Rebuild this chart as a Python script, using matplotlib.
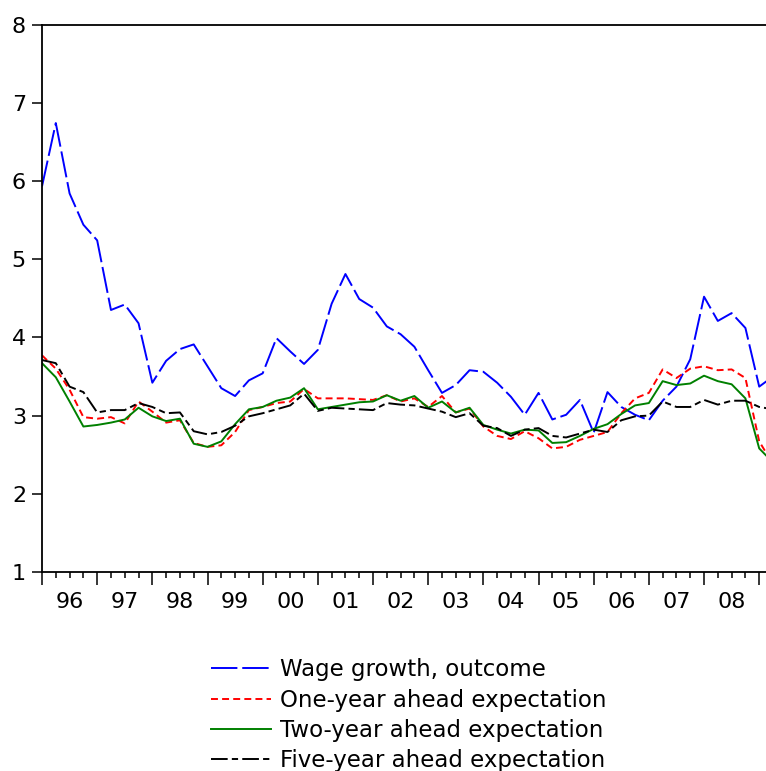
import matplotlib
matplotlib.use("Agg")
import matplotlib.pyplot as plt
import numpy as np

plt.rcParams['font.family'] = ['DejaVu Sans']
plt.rcParams['lines.scale_dashes'] = False

# quarterly, 1996Q1 .. 2009Q2
years = ['96', '97', '98', '99', '00', '01', '02', '03', '04', '05', '06', '07', '08']

wage = [5.93, 6.74, 5.84, 5.44, 5.24, 4.35, 4.42, 4.18, 3.42, 3.70, 3.85, 3.91,
        3.63, 3.35, 3.25, 3.45, 3.54, 3.99, 3.82, 3.66, 3.84, 4.43, 4.81, 4.49,
        4.38, 4.14, 4.04, 3.88, 3.58, 3.29, 3.39, 3.58, 3.56, 3.42, 3.24, 3.01,
        3.29, 2.95, 3.01, 3.20, 2.78, 3.30, 3.11, 3.01, 2.94, 3.19, 3.37, 3.72,
        4.52, 4.21, 4.31, 4.12, 3.37, 3.50]
one_year = [3.77, 3.60, 3.33, 2.98, 2.96, 2.98, 2.90, 3.18, 3.05, 2.91, 2.94, 2.65,
            2.60, 2.62, 2.79, 3.07, 3.11, 3.16, 3.18, 3.34, 3.22, 3.22, 3.22, 3.21,
            3.20, 3.26, 3.18, 3.22, 3.11, 3.25, 3.04, 3.09, 2.86, 2.74, 2.70, 2.80,
            2.71, 2.58, 2.60, 2.69, 2.74, 2.79, 3.03, 3.22, 3.29, 3.59, 3.48, 3.60,
            3.63, 3.58, 3.59, 3.48, 2.67, 2.38]
two_year = [3.67, 3.49, 3.18, 2.86, 2.88, 2.91, 2.95, 3.10, 2.99, 2.93, 2.96, 2.64,
            2.60, 2.67, 2.89, 3.08, 3.11, 3.19, 3.23, 3.35, 3.08, 3.11, 3.14, 3.17,
            3.18, 3.26, 3.19, 3.25, 3.10, 3.18, 3.04, 3.10, 2.88, 2.82, 2.77, 2.82,
            2.81, 2.65, 2.66, 2.74, 2.83, 2.89, 3.02, 3.13, 3.16, 3.44, 3.39, 3.41,
            3.51, 3.44, 3.40, 3.22, 2.58, 2.40]
five_year = [3.71, 3.67, 3.37, 3.30, 3.04, 3.07, 3.07, 3.16, 3.11, 3.03, 3.04, 2.80,
             2.76, 2.79, 2.87, 2.99, 3.03, 3.08, 3.13, 3.28, 3.06, 3.10, 3.09, 3.08,
             3.07, 3.16, 3.14, 3.13, 3.09, 3.05, 2.98, 3.03, 2.87, 2.84, 2.74, 2.82,
             2.84, 2.74, 2.72, 2.77, 2.82, 2.79, 2.94, 2.99, 3.00, 3.18, 3.11, 3.11,
             3.20, 3.14, 3.19, 3.19, 3.11, 3.08]

labels = ['Wage growth, outcome', 'One-year ahead expectation',
          'Two-year ahead expectation', 'Five-year ahead expectation']

t = np.arange(len(wage))

fig = plt.figure(figsize=(7.66, 7.71), dpi=100)
W, H = 766, 771
ax = fig.add_axes([42 / W, 1 - 572 / H, 731 / W, (572 - 24.5) / H])

ax.plot(t, wage, color='#0000ff', lw=1.4, dashes=(19, 3.5), label=labels[0])
ax.plot(t, one_year, color='#ff0000', lw=1.4, dashes=(5, 3), label=labels[1])
ax.plot(t, two_year, color='#008000', lw=1.4, label=labels[2])
ax.plot(t, five_year, color='black', lw=1.4, dashes=(12, 3, 4.5, 3), label=labels[3])

ax.set_xlim(0, 53)
ax.set_ylim(1, 8)
ax.set_yticks(range(1, 9))

major = np.arange(0, 54, 4)
minor = [q for q in range(54) if q % 4 != 0]
ax.set_xticks(major)
ax.set_xticklabels([''] * len(major))
ax.set_xticks(minor, minor=True)
minor_lab = []
for q in minor:
    if q % 4 == 2 and q // 4 < len(years):
        minor_lab.append(years[q // 4])
    else:
        minor_lab.append('')
ax.set_xticklabels(minor_lab, minor=True)

ax.tick_params(axis='x', which='major', length=9.5, width=1.1, direction='out')
ax.tick_params(axis='x', which='minor', length=4.5, width=1.1, direction='out',
               labelsize=16, pad=10)
ax.tick_params(axis='y', length=7.5, width=1.1, direction='out', labelsize=16, pad=4)
for s in ax.spines.values():
    s.set_linewidth(1.3)

fig.legend(loc='upper center', bbox_to_anchor=(409 / W, 1 - 647 / H), frameon=False,
           fontsize=16.5, handlelength=2.6, handletextpad=0.4, labelspacing=0.31,
           borderpad=0)

fig.savefig('out.png', dpi=100)
